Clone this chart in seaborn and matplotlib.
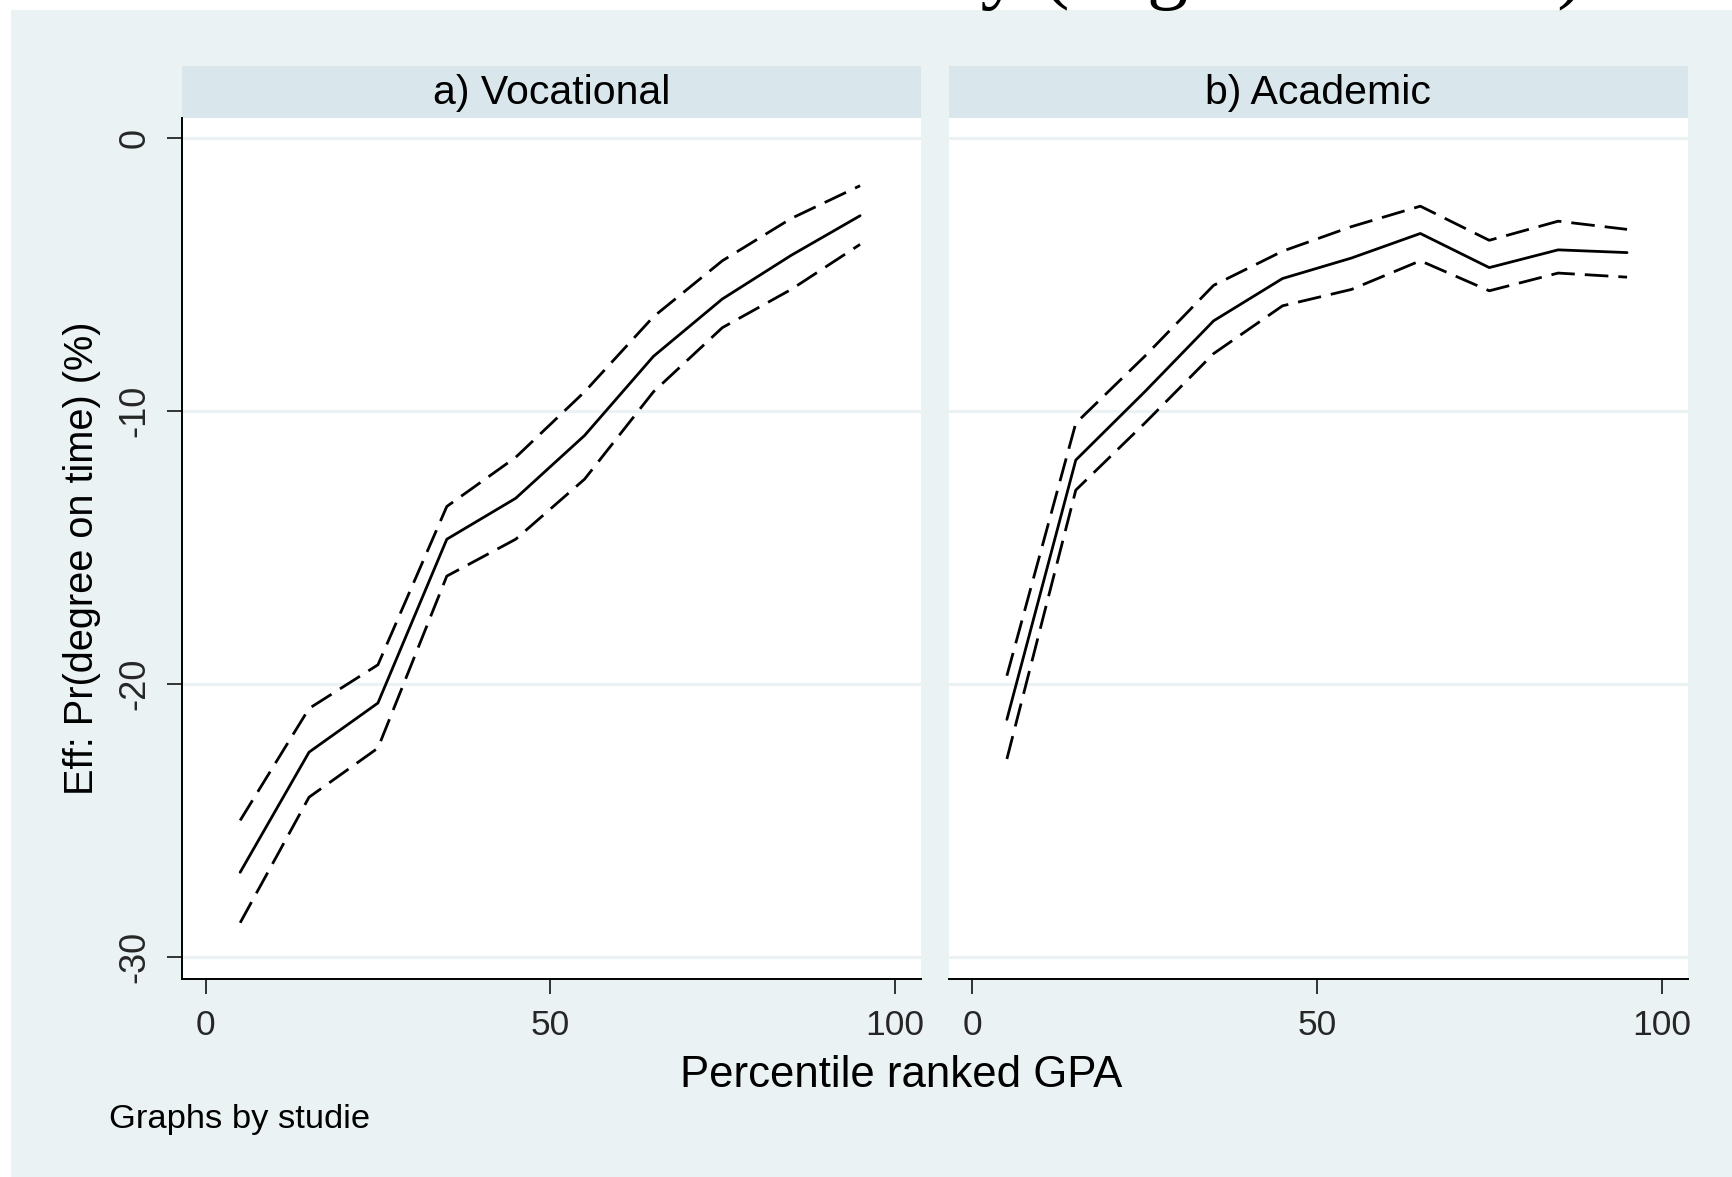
import numpy as np
import pandas as pd
import matplotlib
matplotlib.use("Agg")
import matplotlib.pyplot as plt
import seaborn as sns
from matplotlib.patches import Rectangle

# ---------------- data ----------------
gpa = [5, 15, 25, 35, 45, 55, 65, 75, 85, 95]

voc_est = [-26.9, -22.5, -20.7, -14.7, -13.2, -10.9, -8.0, -5.9, -4.3, -2.85]
voc_hi = [-25.0, -20.9, -19.3, -13.5, -11.7, -9.3, -6.55, -4.5, -2.95, -1.75]
voc_lo = [-28.75, -24.15, -22.35, -16.05, -14.7, -12.5, -9.3, -6.95, -5.55, -3.9]

aca_est = [-21.3, -11.8, -9.3, -6.7, -5.15, -4.4, -3.5, -4.75, -4.1, -4.2]
aca_hi = [-19.7, -10.45, -8.0, -5.4, -4.15, -3.25, -2.5, -3.75, -3.05, -3.35]
aca_lo = [-22.75, -12.9, -10.45, -7.9, -6.15, -5.55, -4.5, -5.6, -4.95, -5.1]

panels = ["a) Vocational", "b) Academic"]
series_names = ["est", "hi", "lo"]
yticks = [0, -10, -20, -30]
xticks = [0, 50, 100]
title_text = "Effect across ability (degree on time)"
xlabel_text = "Percentile ranked GPA"
ylabel_text = "Eff: Pr(degree on time) (%)"
note_text = "Graphs by studie"

rows = []
for panel, arrs in zip(panels, [(voc_est, voc_hi, voc_lo), (aca_est, aca_hi, aca_lo)]):
    for name, vals in zip(series_names, arrs):
        for g, v in zip(gpa, vals):
            rows.append({"panel": panel, "series": name, "gpa": g, "value": v})
df = pd.DataFrame(rows)

# ---------------- style ----------------
W, H = 1733, 1177
BG = "#EAF2F3"
STRIP = "#D9E6EB"
GRID = "#EAF2F3"

sns.set_theme(style="white")
plt.rcParams["font.family"] = ["Liberation Sans", "DejaVu Sans"]
plt.rcParams["axes.unicode_minus"] = False


def fy(py):
    return 1 - py / H


fig = plt.figure(figsize=(W / 100, H / 100), dpi=100, facecolor="white")
fig.patches.append(Rectangle((11 / W, 0), 1 - 11 / W, (H - 10) / H,
                             transform=fig.transFigure, facecolor=BG,
                             edgecolor="none", zorder=-10))

top_px, bot_px = 118, 979.3
ax_b = fy(bot_px)
ax_h = (bot_px - top_px) / H
boxes = [(182.3, 920.7), (949.0, 1687.7)]

dash = (8.5, 3.6)
for i, (panel, (x0, x1)) in enumerate(zip(panels, boxes)):
    ax = fig.add_axes([x0 / W, ax_b, (x1 - x0) / W, ax_h])
    ax.set_zorder(2)
    ax.set_facecolor("white")
    sub = df[df.panel == panel]
    sns.lineplot(data=sub, x="gpa", y="value", style="series",
                 style_order=series_names,
                 dashes={"est": "", "hi": dash, "lo": dash},
                 color="black", linewidth=2.0, estimator=None,
                 legend=False, ax=ax)
    ax.set_xlim(-3.4, 103.8)
    ax.set_ylim(-30.82, 0.73)
    ax.set_xticks(xticks)
    ax.set_yticks(yticks)
    ax.set_xlabel("")
    ax.set_ylabel("")
    ax.yaxis.grid(True, color=GRID, linewidth=2.2)
    ax.xaxis.grid(False)
    ax.set_axisbelow(True)
    for s in ["top", "right"]:
        ax.spines[s].set_visible(False)
    ax.spines["bottom"].set_color("black")
    ax.spines["bottom"].set_linewidth(1.4)
    ax.tick_params(axis="x", direction="out", length=10.8, width=1.1,
                   color="black", pad=10.5, labelsize=25.5, bottom=True)
    if i == 0:
        ax.spines["left"].set_color("black")
        ax.spines["left"].set_linewidth(1.4)
        ax.tick_params(axis="y", direction="out", length=10.8, width=1.1,
                       color="black", pad=10.5, labelsize=26, left=True,
                       labelrotation=90)
        plt.setp(ax.get_yticklabels(), va="center")
    else:
        ax.spines["left"].set_visible(False)
        ax.tick_params(axis="y", left=False, labelleft=False)

    # strip
    fig.patches.append(Rectangle((x0 / W, fy(118)), (x1 - x0) / W, (118 - 66) / H,
                                 transform=fig.transFigure, facecolor=STRIP,
                                 edgecolor="none", zorder=1))
    fig.text((x0 + x1) / 2 / W, fy(93), panel, ha="center", va="center",
             fontsize=29.5, color="black")

fig.text(901 / W, fy(1087), xlabel_text, ha="center", va="baseline",
         fontsize=31.5, color="black")
fig.text(82 / W, fy(558), ylabel_text, ha="center", va="center",
         rotation=90, fontsize=28.6, color="black")
fig.text(109 / W, fy(1128), note_text, ha="left", va="baseline",
         fontsize=24.8, color="black")
fig.text(1585 / W, 1 + 7 / H, title_text, ha="right", va="baseline",
         fontsize=59, family=["Liberation Serif", "DejaVu Serif"], color="black",
         zorder=5)

fig.savefig("out.png", dpi=100)
